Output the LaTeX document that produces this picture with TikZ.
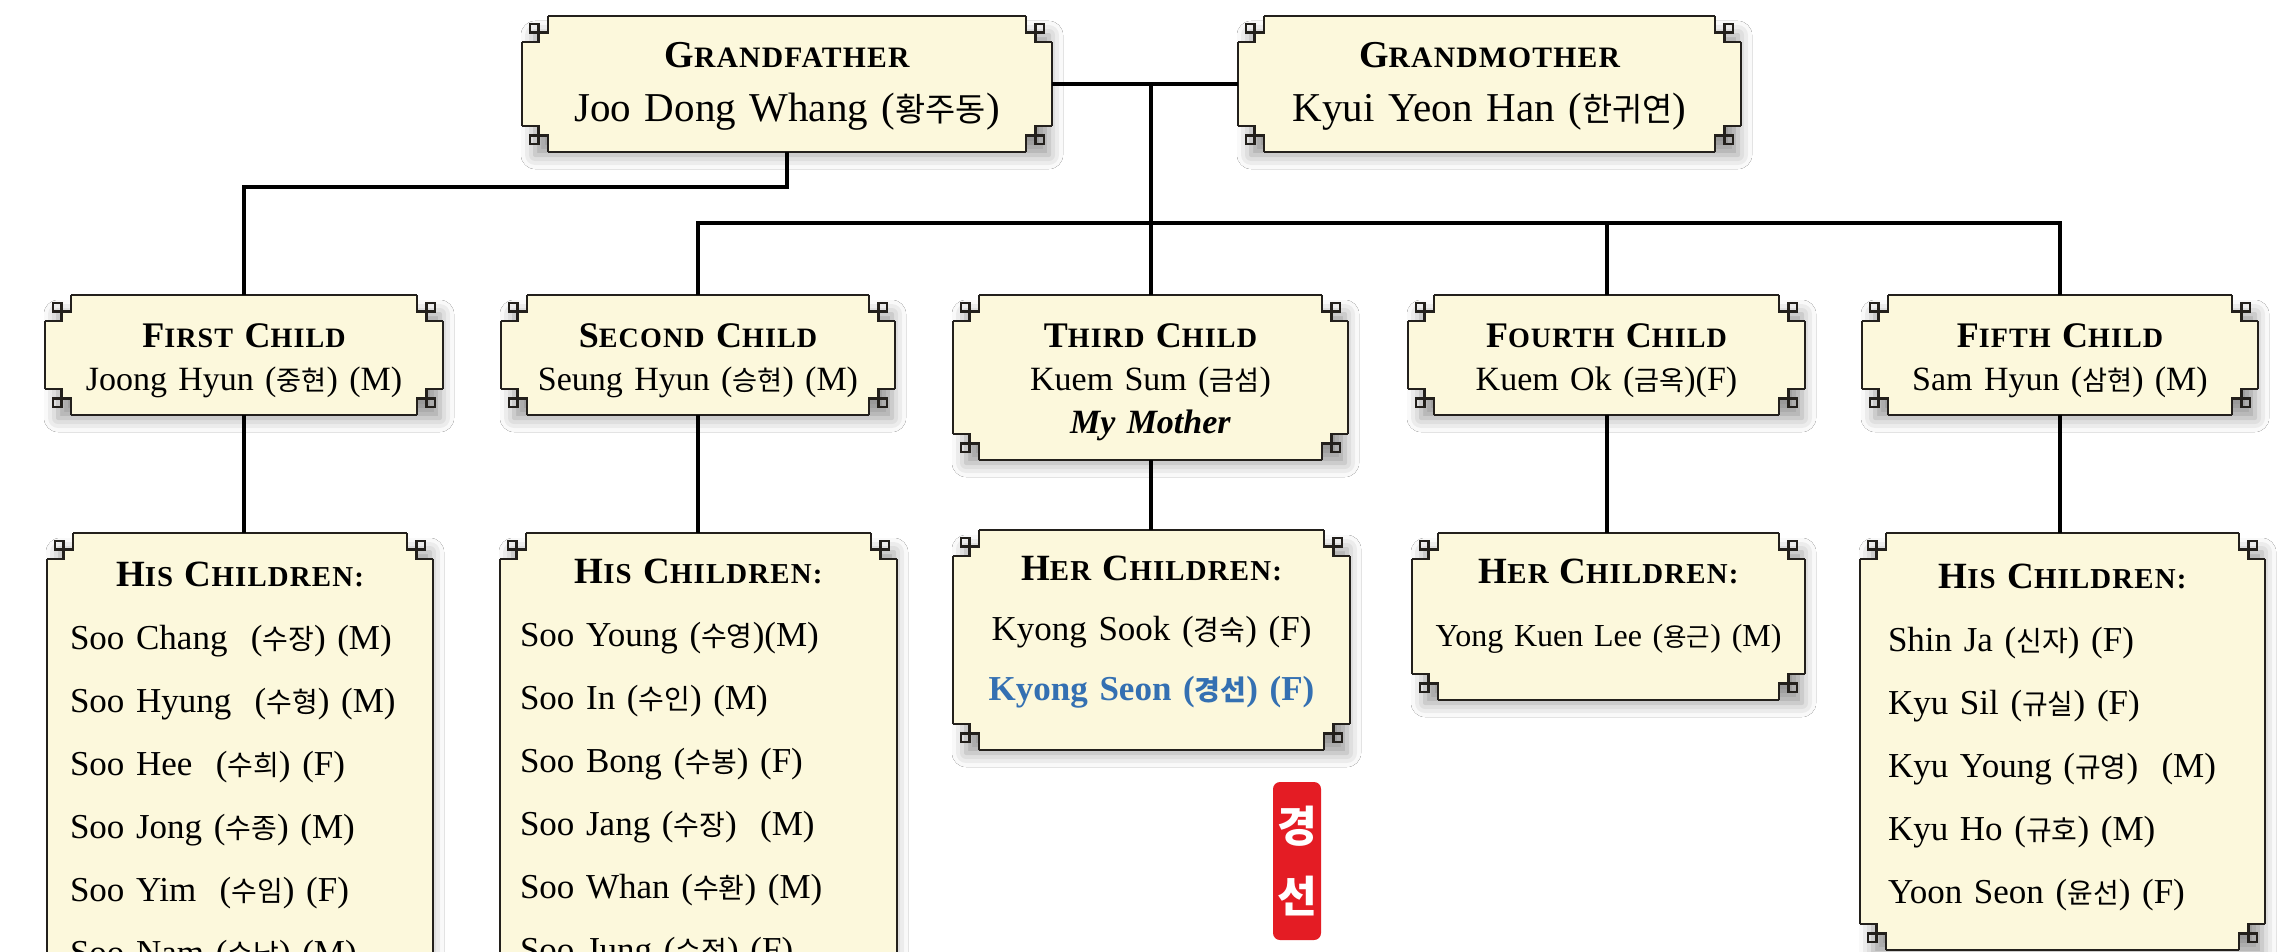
\documentclass[tikz,border=0pt]{standalone}
\usepackage{fontspec}
\setmainfont{Liberation Serif}
\newfontfamily\kr{Noto Sans CJK KR}[Scale=0.8]
\newfontfamily\scfnt{Liberation Serif}[Scale=0.78, LetterSpace=4]
\usetikzlibrary{calc, shadows.blur}

\definecolor{boxfill}{RGB}{252,248,220}
\definecolor{framecol}{RGB}{35,32,28}
\definecolor{seonblue}{RGB}{52,112,178}
\definecolor{sealred}{RGB}{228,28,36}

\newcommand\ko[1]{{\kr #1}}
\newcommand\ttl[2]{{\bfseries #1{\scfnt\bfseries #2}}}
\newcommand\hdr[1]{\hbox to \hsize{\hfil{\fontsize{37}{63}\selectfont #1}\hfil}}

\pgfdeclarelayer{bg}
\pgfsetlayers{bg,main}

\newcommand\fretsz{26}
\newcommand\fretbox[1]{%
  \path[blur shadow={shadow xshift=5pt, shadow yshift=-11pt, shadow blur radius=14pt, shadow opacity=40}]
    ($(#1.north west)+(8,8)$) rectangle ($(#1.south east)+(-8,-8)$);
  \fill[boxfill] ($(#1.north west)+(\fretsz,0)$) rectangle ($(#1.south east)+(-\fretsz,0)$);
  \fill[boxfill] ($(#1.north west)+(0,\fretsz)$) rectangle ($(#1.south east)+(0,-\fretsz)$);
  \foreach \cn/\sx/\sy in {north west/1/1, north east/-1/1, south west/1/-1, south east/-1/-1} {
    \fill[boxfill, shift={(#1.\cn)}, xscale=\sx, yscale=\sy]
      (0.64*\fretsz,0.64*\fretsz) rectangle (\fretsz,\fretsz);
    \draw[frame, shift={(#1.\cn)}, xscale=\sx, yscale=\sy]
      (\fretsz,0) -- (\fretsz,0.64*\fretsz) -- (0.3*\fretsz,0.64*\fretsz) -- (0.3*\fretsz,0.3*\fretsz)
      -- (0.64*\fretsz,0.3*\fretsz) -- (0.64*\fretsz,\fretsz) -- (0,\fretsz);
  }
  \draw[frame] ($(#1.north west)+(\fretsz,0)$) -- ($(#1.north east)+(-\fretsz,0)$)
    ($(#1.north east)+(0,\fretsz)$) -- ($(#1.south east)+(0,-\fretsz)$)
    ($(#1.south east)+(-\fretsz,0)$) -- ($(#1.south west)+(\fretsz,0)$)
    ($(#1.south west)+(0,-\fretsz)$) -- ($(#1.north west)+(0,\fretsz)$);
}

\tikzset{
  box/.style={anchor=north, inner xsep=0pt, inner ysep=0pt, outer sep=0pt, align=center},
  toprow/.style={box, font=\fontsize{41}{54}\selectfont, text height=52pt, text depth=84pt},
  childrow/.style={box, font=\fontsize{34}{43}\selectfont, text height=52pt, text depth=68pt},
  kidlist/.style={box, align=left, font=\fontsize{35}{63}\selectfont, text height=53pt},
  frame/.style={draw=framecol, line width=2.5pt, line join=miter},
  link/.style={draw=black, line width=4pt, line join=miter},
  seal/.style={fill=sealred, text=white, rounded corners=7pt, minimum width=48pt,
    minimum height=158pt, inner sep=0pt, align=center, font=\kr\bfseries\fontsize{54}{70}\selectfont}
}

\begin{document}
\begin{tikzpicture}[x=1pt, y=-1pt]
\useasboundingbox (0,0) rectangle (2280,952);

% grandparents
\node[toprow, text width=530pt] (gf) at (787,16)
  {{\fontsize{38}{54}\selectfont\ttl{G}{RANDFATHER}}\\Joo Dong Whang (\ko{황주동})};
\node[toprow, text width=503pt] (gm) at (1489.5,16)
  {{\fontsize{38}{54}\selectfont\ttl{G}{RANDMOTHER}}\\Kyui Yeon Han (\ko{한귀연})};

% children
\node[childrow, text width=398pt] (c1) at (244,295)
  {{\fontsize{36}{43}\selectfont\ttl{F}{IRST} \ttl{C}{HILD}}\\Joong Hyun (\ko{중현}) (M)};
\node[childrow, text width=394pt] (c2) at (698,295)
  {{\fontsize{36}{43}\selectfont\ttl{S}{ECOND} \ttl{C}{HILD}}\\Seung Hyun (\ko{승현}) (M)};
\node[childrow, text width=395pt, text depth=113pt] (c3) at (1150.5,295)
  {{\fontsize{36}{43}\selectfont\ttl{T}{HIRD} \ttl{C}{HILD}}\\Kuem Sum (\ko{금섬})\\\textbf{\textit{My Mother}}};
\node[childrow, text width=397pt] (c4) at (1606.5,295)
  {{\fontsize{36}{43}\selectfont\ttl{F}{OURTH} \ttl{C}{HILD}}\\Kuem Ok (\ko{금옥})(F)};
\node[childrow, text width=396pt] (c5) at (2060,295)
  {{\fontsize{36}{43}\selectfont\ttl{F}{IFTH} \ttl{C}{HILD}}\\Sam Hyun (\ko{삼현}) (M)};

% grandchildren
\node[kidlist, inner xsep=23pt, text width=340pt, text depth=470pt] (k1) at (240,533)
  {\hdr{\ttl{H}{IS} \ttl{C}{HILDREN:}}\\
   Soo Chang~ (\ko{수장}) (M)\\Soo Hyung~ (\ko{수형}) (M)\\Soo Hee~ (\ko{수희}) (F)\\
   Soo Jong (\ko{수종}) (M)\\Soo Yim~ (\ko{수임}) (F)\\Soo Nam (\ko{수남}) (M)};
\node[kidlist, inner xsep=20pt, text width=357pt, text height=50pt, text depth=470pt] (k2) at (698.5,533)
  {\hdr{\ttl{H}{IS} \ttl{C}{HILDREN:}}\\
   Soo Young (\ko{수영})(M)\\Soo In (\ko{수인}) (M)\\Soo Bong (\ko{수봉}) (F)\\
   Soo Jang (\ko{수장})~ (M)\\Soo Whan (\ko{수환}) (M)\\Soo Jung (\ko{수정}) (F)};
\node[box, font=\fontsize{35}{60}\selectfont, text width=397pt, text height=50pt, text depth=170pt] (k3) at (1151.5,530)
  {{\fontsize{37}{60}\selectfont\ttl{H}{ER} \ttl{C}{HILDREN:}}\\Kyong Sook (\ko{경숙}) (F)\\
   \textcolor{seonblue}{\bfseries Kyong Seon ({\kr\bfseries 경선}) (F)}};
\node[box, font=\fontsize{32}{63}\selectfont, text width=393pt, text height=50pt, text depth=117pt] (k4) at (1608.5,533)
  {{\fontsize{37}{63}\selectfont\ttl{H}{ER} \ttl{C}{HILDREN:}}\\Yong Kuen Lee (\ko{용근}) (M)};
\node[kidlist, inner xsep=28pt, text width=349pt, text height=55pt, text depth=362pt] (k5) at (2062.5,533)
  {\hdr{\ttl{H}{IS} \ttl{C}{HILDREN:}}\\
   Shin Ja (\ko{신자}) (F)\\Kyu Sil (\ko{규실}) (F)\\Kyu Young (\ko{규영})~ (M)\\
   Kyu Ho (\ko{규호}) (M)\\Yoon Seon (\ko{윤선}) (F)};

% seal
\node[seal] (seal) at (1297,861) {경\\선};

% frames
\begin{pgfonlayer}{bg}
  \fill[white] (0,0) rectangle (2280,952);
  \foreach \n in {gf,gm,c1,c2,c3,c4,c5,k1,k2,k3,k4,k5} {\fretbox{\n}}
\end{pgfonlayer}

% lines
\coordinate (gfdrop) at ($(gf.south)+(0,35)$);
\coordinate (busL) at ($(c2.north)+(0,-72)$);
\draw[link] (gf.east) -- (gm.west);
\draw[link] (gf.south) -- (gfdrop) -| (c1.north);
\draw[link] (c3.north) -- (c3.north |- gf.east);
\draw[link] (c2.north) -- (busL) -- (busL -| c5.north) -- (c5.north);
\draw[link] (c4.north) -- (c4.north |- busL);
\foreach \i in {1,...,5}
  \draw[link] (c\i.south) -- (c\i.south |- k\i.north);
\end{tikzpicture}
\end{document}
